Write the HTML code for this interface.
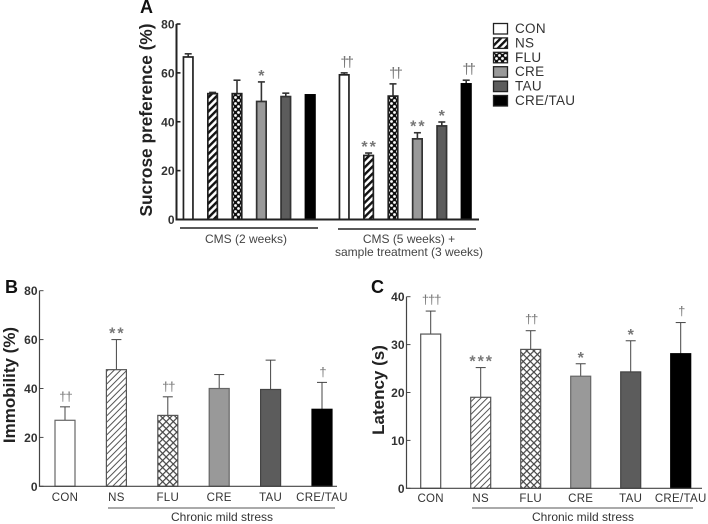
<!DOCTYPE html>
<html lang="en">
<head>
<meta charset="utf-8">
<title>Sucrose preference, immobility and latency</title>
<style>
html,body{margin:0;padding:0;background:#fff;width:708px;height:524px;overflow:hidden}
svg{display:block;font-family:"Liberation Sans",sans-serif;filter:blur(0.35px)}
</style>
</head>
<body>
<svg id="fig" xmlns="http://www.w3.org/2000/svg" width="708" height="524" viewBox="0 0 708 524">
<defs>
<pattern id="hatchA" width="5" height="5" patternUnits="userSpaceOnUse" patternTransform="rotate(45)"><rect width="5" height="5" fill="#fff"/><rect width="2.4" height="5" fill="#111"/></pattern>
<pattern id="checkA" width="6" height="6" patternUnits="userSpaceOnUse"><rect width="6" height="6" fill="#111"/><circle cx="1.5" cy="1.5" r="1.4" fill="#fff"/><circle cx="4.5" cy="4.5" r="1.4" fill="#fff"/></pattern>
<pattern id="hatchB" width="4.5" height="4.5" patternUnits="userSpaceOnUse" patternTransform="rotate(45)"><rect width="4.5" height="4.5" fill="#fff"/><rect width="1" height="4.5" fill="#555"/></pattern>
<pattern id="checkB" width="5" height="5" patternUnits="userSpaceOnUse" patternTransform="rotate(45)"><rect width="5" height="5" fill="#fff"/><rect width="1.2" height="5" fill="#444"/><rect width="5" height="1.2" fill="#444"/></pattern>
</defs>
</svg>
<script>
// Panel A data
const categoriesA = ['CON', 'NS', 'FLU', 'CRE', 'TAU', 'CRE/TAU', 'CON', 'NS', 'FLU', 'CRE', 'TAU', 'CRE/TAU'];
const valuesA = [66.5, 51.5, 51.5, 48.3, 50.3, 51, 59.2, 26.2, 50.5, 33, 38.3, 55.5];
const errorsA = [1.3, 0.5, 5.5, 8, 1.4, 0, 0.8, 1, 5, 2.5, 1.6, 1.5];
const marksA = ['', '', '', '*', '', '', '††', '**', '††', '**', '*', '††'];
const ticksA = [0, 20, 40, 60, 80];
// Panel B data
const categoriesB = ['CON', 'NS', 'FLU', 'CRE', 'TAU', 'CRE/TAU'];
const valuesB = [27, 47.7, 29, 40, 39.6, 31.5];
const errorsB = [5.5, 12.3, 7.6, 5.7, 12, 11];
const marksB = ['††', '**', '††', '', '', '†'];
const ticksB = [0, 20, 40, 60, 80];
// Panel C data
const categoriesC = ['CON', 'NS', 'FLU', 'CRE', 'TAU', 'CRE/TAU'];
const valuesC = [32.2, 19, 29, 23.4, 24.3, 28.1];
const errorsC = [4.8, 6.2, 3.9, 2.6, 6.5, 6.5];
const marksC = ['†††', '***', '††', '*', '*', '†'];
const ticksC = [0, 10, 20, 30, 40];
// Legend
const legendLabels = ['CON', 'NS', 'FLU', 'CRE', 'TAU', 'CRE/TAU'];

const NS = 'http://www.w3.org/2000/svg';
const fig = document.getElementById('fig');

function add(parent, tag, attrs, text) {
  const el = document.createElementNS(NS, tag);
  for (const k in attrs) el.setAttribute(k, attrs[k]);
  if (text !== undefined) el.textContent = text;
  parent.appendChild(el);
  return el;
}
function named(el, name) {
  
  
  return el;
}
function slug(s) { return s.toLowerCase().replace(/[^a-z0-9]+/g, '-'); }

function drawPanel(p) {
  const g = named(add(fig, 'g', {}), p.name);
  const yOf = v => p.y0 - (v / p.yMax) * (p.y0 - p.yTop);
  const xOf = i => p.firstX + i * p.stepX + (i >= p.gapAfter ? p.gap : 0);

  p.values.forEach((v, i) => {
    const x = xOf(i), y = yOf(v), tip = yOf(v + p.errors[i]);
    const key = slug(p.categories[i]) + '-' + i;
    const fillKey = i % 6;
    if (p.errors[i] > 0) {
      named(add(g, 'line', {x1: x, x2: x, y1: y, y2: tip, stroke: p.barStroke, 'stroke-width': p.errW}), 'error-bar-' + key);
      named(add(g, 'line', {x1: x - p.capW, x2: x + p.capW, y1: tip, y2: tip, stroke: p.barStroke, 'stroke-width': p.errW}), 'error-cap-' + key);
    }
    named(add(g, 'rect', {x: x - p.barW / 2, y: y, width: p.barW, height: p.y0 - y, fill: p.fills[fillKey], stroke: p.strokes[fillKey], 'stroke-width': p.barSW}), 'bar-' + key);
    if (p.marks[i]) {
      const isStar = p.marks[i].indexOf('*') >= 0;
      named(add(g, 'text', {
        x: x + (isStar ? 1 : -p.daggerSpace / 2),
        y: tip - (isStar ? 1 : p.daggerGap),
        'text-anchor': 'middle',
        'font-size': isStar ? 16 : p.daggerSize,
        'font-weight': isStar ? 'bold' : 'normal',
        fill: '#777',
        'letter-spacing': isStar ? 2 : p.daggerSpace
      }, p.marks[i]), 'significance-' + key);
    }
    if (p.showCats) {
      named(add(g, 'text', {x: x, y: p.catY, 'text-anchor': 'middle', 'font-size': 11.5, fill: '#333', 'letter-spacing': 0.3}, p.categories[i]), 'category-label-' + key);
    }
  });

  named(add(g, 'line', {x1: p.axisX, x2: p.axisX, y1: p.yTop, y2: p.y0, stroke: p.axisColor, 'stroke-width': p.axisW}), 'y-axis');
  named(add(g, 'line', {x1: p.axisX - p.axisW / 2, x2: p.axisEnd, y1: p.y0, y2: p.y0, stroke: p.axisColor, 'stroke-width': p.axisW}), 'x-axis');
  p.ticks.forEach(t => {
    named(add(g, 'line', {x1: p.axisX, x2: p.axisX + 4, y1: yOf(t), y2: yOf(t), stroke: p.axisColor, 'stroke-width': p.axisW * 0.8}), 'y-tick-' + t);
    named(add(g, 'text', {x: p.axisX - 2, y: yOf(t) + 4.5, 'text-anchor': 'end', 'font-size': 12, 'font-weight': 'bold', fill: '#333'}, t), 'y-tick-label-' + t);
  });
  named(add(g, 'text', {transform: 'translate(' + p.titleX + ',' + p.titleY + ') rotate(-90)', 'text-anchor': 'middle', 'font-size': p.titleSize, 'font-weight': 'bold', fill: '#222'}, p.title), 'y-axis-title');
  named(add(g, 'text', {x: p.letterX, y: p.letterY, 'font-size': 18, 'font-weight': 'bold', fill: '#111'}, p.letter), 'panel-label-' + p.letter.toLowerCase());
}

drawPanel({
  name: 'panel-a', letter: 'A', letterX: 140, letterY: 13, title: 'Sucrose preference (%)', titleX: 152, titleY: 120, titleSize: 17.3,
  categories: categoriesA, values: valuesA, errors: errorsA, marks: marksA, ticks: ticksA, yMax: 80,
  y0: 219.5, yTop: 24, axisX: 176.5, axisEnd: 479, axisW: 2, axisColor: '#222',
  firstX: 188.2, stepX: 24.4, gapAfter: 6, gap: 9.6, barW: 9.5, barSW: 1.7, errW: 1.6, capW: 3.5, barStroke: '#333',
  fills: ['#fff', 'url(#hatchA)', 'url(#checkA)', '#999', '#5c5c5c', '#000'],
  strokes: ['#222', '#222', '#222', '#333', '#333', '#000'],
  daggerSize: 15, daggerSpace: -3, daggerGap: 6, showCats: false
});
drawPanel({
  name: 'panel-b', letter: 'B', letterX: 5, letterY: 293, title: 'Immobility (%)', titleX: 15, titleY: 385, titleSize: 17,
  categories: categoriesB, values: valuesB, errors: errorsB, marks: marksB, ticks: ticksB, yMax: 80,
  y0: 486.3, yTop: 290.7, axisX: 39.5, axisEnd: 337, axisW: 1.2, axisColor: '#444',
  firstX: 65, stepX: 51.4, gapAfter: 99, gap: 0, barW: 20, barSW: 1.2, errW: 1, capW: 5, barStroke: '#444',
  fills: ['#fff', 'url(#hatchB)', 'url(#checkB)', '#999', '#5c5c5c', '#000'],
  strokes: ['#666', '#555', '#555', '#666', '#444', '#000'],
  daggerSize: 13, daggerSpace: -1, daggerGap: 6, showCats: true, catY: 501
});
drawPanel({
  name: 'panel-c', letter: 'C', letterX: 371, letterY: 293, title: 'Latency (s)', titleX: 384, titleY: 390, titleSize: 17,
  categories: categoriesC, values: valuesC, errors: errorsC, marks: marksC, ticks: ticksC, yMax: 40,
  y0: 488.3, yTop: 296.7, axisX: 406.5, axisEnd: 702, axisW: 1.2, axisColor: '#444',
  firstX: 430.7, stepX: 50, gapAfter: 99, gap: 0, barW: 20, barSW: 1.2, errW: 1, capW: 5, barStroke: '#444',
  fills: ['#fff', 'url(#hatchB)', 'url(#checkB)', '#999', '#5c5c5c', '#000'],
  strokes: ['#555', '#555', '#555', '#666', '#444', '#000'],
  daggerSize: 13, daggerSpace: -1, daggerGap: 7, showCats: true, catY: 502
});

// Group brackets and their captions
const notes = named(add(fig, 'g', {}), 'group-annotations');
named(add(notes, 'line', {x1: 180, x2: 318, y1: 228, y2: 228, stroke: '#222', 'stroke-width': 1.4}), 'cms-2-weeks-bracket');
named(add(notes, 'text', {x: 246, y: 243, 'text-anchor': 'middle', 'font-size': 12, fill: '#444'}, 'CMS (2 weeks)'), 'cms-2-weeks-label');
named(add(notes, 'line', {x1: 338, x2: 476, y1: 229, y2: 229, stroke: '#222', 'stroke-width': 1.4}), 'cms-5-weeks-bracket');
named(add(notes, 'text', {x: 409, y: 243, 'text-anchor': 'middle', 'font-size': 12, fill: '#444'}, 'CMS (5 weeks) +'), 'cms-5-weeks-label');
named(add(notes, 'text', {x: 409, y: 256, 'text-anchor': 'middle', 'font-size': 12, fill: '#444'}, 'sample treatment (3 weeks)'), 'sample-treatment-label');
named(add(notes, 'line', {x1: 108, x2: 335, y1: 508, y2: 508, stroke: '#777', 'stroke-width': 1.2}), 'panel-b-stress-bracket');
named(add(notes, 'text', {x: 222, y: 521, 'text-anchor': 'middle', 'font-size': 12, fill: '#333'}, 'Chronic mild stress'), 'panel-b-stress-label');
named(add(notes, 'line', {x1: 472, x2: 693, y1: 508, y2: 508, stroke: '#777', 'stroke-width': 1.2}), 'panel-c-stress-bracket');
named(add(notes, 'text', {x: 583, y: 521, 'text-anchor': 'middle', 'font-size': 12, fill: '#333'}, 'Chronic mild stress'), 'panel-c-stress-label');

// Legend
const legend = named(add(fig, 'g', {}), 'legend');
const legendFills = ['#fff', 'url(#hatchA)', 'url(#checkA)', '#999', '#5c5c5c', '#000'];
legendLabels.forEach((label, i) => {
  const y = 23.5 + i * 14.4;
  const entry = named(add(legend, 'g', {}), 'legend-entry-' + slug(label));
  named(add(entry, 'rect', {x: 493.5, y: y, width: 14, height: 10.5, fill: legendFills[i], stroke: '#222', 'stroke-width': 1.3}), 'legend-swatch-' + slug(label));
  named(add(entry, 'text', {x: 515, y: y + 9.5, 'font-size': 13.5, fill: '#333', 'letter-spacing': 0.3}, label), 'legend-label-' + slug(label));
});
</script>
</body>
</html>
